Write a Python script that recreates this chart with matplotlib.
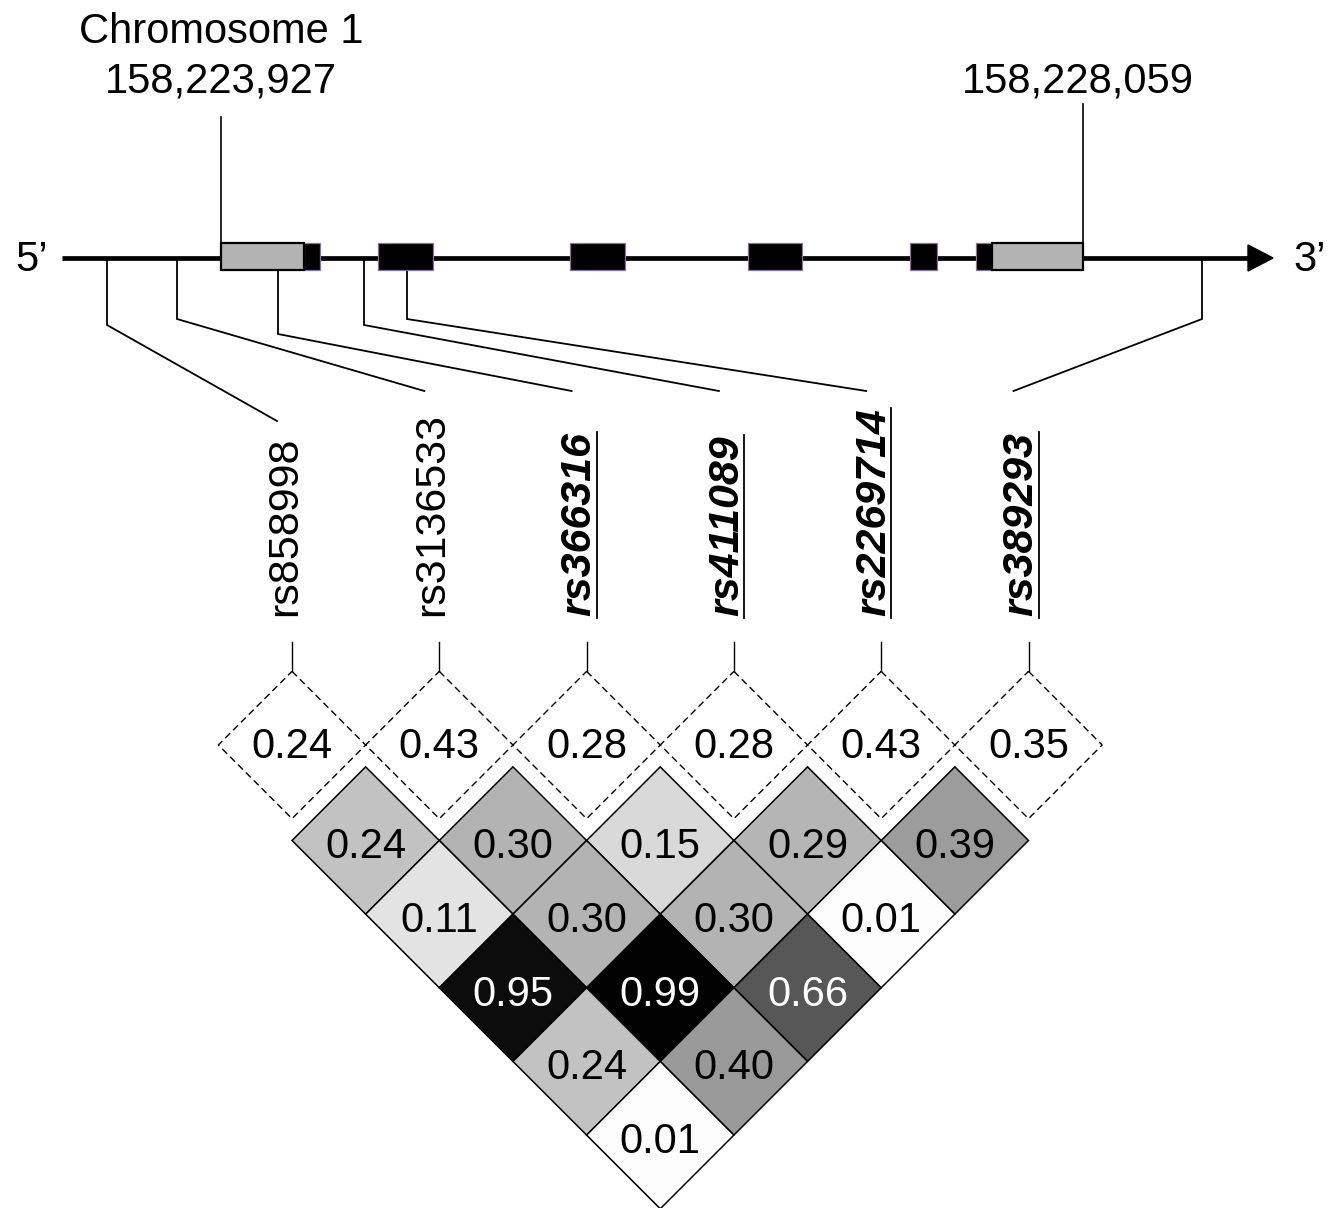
import matplotlib.pyplot as plt
import numpy as np
from matplotlib.colors import Normalize
from matplotlib.patches import Polygon, Rectangle

plt.rcParams["font.family"] = ["Liberation Sans", "DejaVu Sans"]

# --- data --------------------------------------------------------------
snp_names = ["rs858998", "rs3136533", "rs366316", "rs411089", "rs2269714", "rs389293"]
snp_highlight = [False, False, True, True, True, True]
snp_maf = [0.24, 0.43, 0.28, 0.28, 0.43, 0.35]

# pairwise r^2, row k holds pairs (i, i + k)
ld_rows = [
    [0.24, 0.30, 0.15, 0.29, 0.39],
    [0.11, 0.30, 0.30, 0.01],
    [0.95, 0.99, 0.66],
    [0.24, 0.40],
    [0.01],
]

start_label = "158,223,927"
end_label = "158,228,059"

# gene structure along the drawing axis
utr_boxes = [(221, 304), (992, 1083)]
cds_boxes = [(304, 320), (378, 433), (570, 625), (748, 802), (910, 937), (976, 992)]
snp_gene_pos = [107, 177, 278, 364, 407, 1202]
snp_elbow_y = [325, 319, 334, 325, 319, 319]

# --- layout --------------------------------------------------------------
FS = 30
FS_SNP = 31
line_y = 258
box_top, box_bot = 243, 270
snp_x0, snp_dx = 292, 147.3
h = snp_dx / 2
maf_y = 745
ld_y0 = 840.5

fig = plt.figure(figsize=(13.36, 12.08), dpi=100)
ax = fig.add_axes([0, 0, 1, 1])
ax.set_xlim(0, 1336)
ax.set_ylim(1208, 0)
ax.axis("off")

# backbone + arrow
ax.plot([62, 1250], [line_y, line_y], color="black", lw=3.4, solid_capstyle="butt", zorder=2)
ax.add_patch(Polygon([[1248, 245], [1248, 271], [1273, line_y]], closed=True,
                     color="black", zorder=2))
ax.text(32, line_y + 2, "5\u2019", fontsize=FS, ha="center", va="center")
ax.text(1310, line_y + 2, "3\u2019", fontsize=FS, ha="center", va="center")

for x0, x1 in cds_boxes:
    ax.add_patch(Rectangle((x0, box_top), x1 - x0, box_bot - box_top,
                           facecolor="black", edgecolor="#8a70a8", lw=0.9, zorder=3))
for x0, x1 in utr_boxes:
    ax.add_patch(Rectangle((x0, box_top), x1 - x0, box_bot - box_top,
                           facecolor="#b3b3b3", edgecolor="black", lw=1.6, zorder=4))

# genomic coordinates
ax.plot([221, 221], [117, box_top], color="black", lw=1.2)
ax.plot([1083, 1083], [104, box_top], color="black", lw=1.2)
ax.text(221, 43, "Chromosome 1", fontsize=FS, ha="center", va="baseline")
ax.text(221, 93, start_label, fontsize=FS, ha="center", va="baseline")
ax.text(1078, 93, end_label, fontsize=FS, ha="center", va="baseline")

snp_x = snp_x0 + snp_dx * np.arange(len(snp_names))

# connectors from gene to labels
for gx, ey, sx in zip(snp_gene_pos, snp_elbow_y, snp_x):
    inside = any(a <= gx <= b for a, b in utr_boxes + cds_boxes)
    top = box_bot if inside else line_y
    end_y = 421 if sx == snp_x[0] else 391
    ax.plot([gx, gx, sx - 15], [top, ey, end_y], color="black", lw=1.3,
            solid_joinstyle="miter", zorder=1)

# SNP labels
labels = []
for sx, name, hl in zip(snp_x, snp_names, snp_highlight):
    t = ax.text(sx - 7, 616, name, fontsize=FS_SNP, rotation=90, ha="center", va="bottom",
                fontweight="bold" if hl else "normal",
                fontstyle="italic" if hl else "normal")
    labels.append((t, hl))
    ax.plot([sx, sx], [642, maf_y - h], color="black", lw=1.0)

fig.canvas.draw()
renderer = fig.canvas.get_renderer()
inv = ax.transData.inverted()
for t, hl in labels:
    if not hl:
        continue
    bb = t.get_window_extent(renderer)
    (x0, y0), (x1, y1) = inv.transform([[bb.x0, bb.y0], [bb.x1, bb.y1]])
    ux = x1 - 3
    ax.plot([ux, ux], [y0 + 2, y1], color="black", lw=1.3)

# MAF diamonds (dashed)
for sx, v in zip(snp_x, snp_maf):
    d = [[sx, maf_y - h], [sx + h, maf_y], [sx, maf_y + h], [sx - h, maf_y]]
    ax.add_patch(Polygon(d, closed=True, facecolor="white", edgecolor="black",
                         lw=1.0, ls=(0, (5, 3)), zorder=2))
    ax.text(sx, maf_y + 2, f"{v:.2f}", fontsize=FS, ha="center", va="center", zorder=3)

# LD triangle
cmap = plt.cm.gray_r
norm = Normalize(0, 1)
for k, row in enumerate(ld_rows):
    for i, v in enumerate(row):
        cx = snp_x[i] + (k + 1) * h
        cy = ld_y0 + k * h
        d = [[cx, cy - h], [cx + h, cy], [cx, cy + h], [cx - h, cy]]
        ax.add_patch(Polygon(d, closed=True, facecolor=cmap(norm(v)), edgecolor="black",
                             lw=1.1, zorder=4))
        ax.text(cx, cy + 7, f"{v:.2f}", fontsize=FS, ha="center", va="center",
                color="white" if v > 0.5 else "black", zorder=5)

fig.savefig("out.png", dpi=100)
